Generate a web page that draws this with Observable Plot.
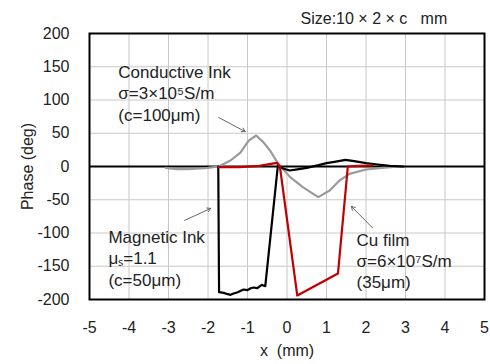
<!DOCTYPE html>
<html>
<head>
<meta charset="utf-8">
<script src="https://cdn.jsdelivr.net/npm/d3@7"></script>
<script src="https://cdn.jsdelivr.net/npm/@observablehq/plot@0.6"></script>
<style>
  body { margin: 0; background: #fff; }
  svg { font-family: "Liberation Sans", Arial, sans-serif; }
</style>
</head>
<body>
<div id="chart"></div>
<script>
// Conductive ink (gray)
const condX = [-3.07, -2.8, -2.5, -2.2, -2.0, -1.73, -1.43, -1.18, -0.97, -0.78, -0.6, -0.43, -0.22, 0.08, 0.4, 0.79, 1.08, 1.33, 1.58, 2.0, 2.4, 2.84];
const condY = [-2, -4, -4, -3, -2, 0, 9, 21, 39, 46.6, 36.6, 24, 4, -16, -31, -46, -36, -21, -11, -4.5, -2, 0];
// Magnetic ink (black)
const magX = [-1.74, -1.72, -1.6, -1.5, -1.43, -1.35, -1.25, -1.1, -1.0, -0.92, -0.85, -0.75, -0.64, -0.6, -0.55, -0.23, -0.1, 0.07, 0.3, 0.5, 0.8, 1.0, 1.2, 1.48, 1.7, 2.0, 2.3, 2.6, 2.95];
const magY = [0, -189, -190, -192, -193, -191, -189, -185, -186, -183, -182, -183, -178, -179, -180, 2, -3, -6, -4, -2, 2, 5, 7, 10, 8, 5, 3, 1, 0];
// Cu film (red)
const cuX = [-1.73, -1.2, -0.7, -0.26, -0.18, 0.26, 1.29, 1.54, 1.8, 2.16];
const cuY = [-1, -1, 1, 5.5, 0, -194, -161, 0, 1, 1.5];

const xTicks = [-5, -4, -3, -2, -1, 0, 1, 2, 3, 4, 5];
const yTicks = [-200, -150, -100, -50, 0, 50, 100, 150, 200];

const seriesNames = ["Conductive Ink", "Magnetic Ink", "Cu film"];
const seriesColors = ["#9a9a9a", "#000000", "#c00000"];

// annotations
const noteText = [
  "Conductive Ink\nσ=3×10⁵S/m\n(c=100μm)",
  "Magnetic Ink\nμₛ=1.1\n(c=50μm)",
  "Cu film\nσ=6×10⁷S/m\n(35μm)"
];
const noteX = [-4.27, -4.52, 1.76];
const noteY = [111, -137, -141];
const arrowX1 = [-1.73, -2.59, 2.16];
const arrowY1 = [73.7, -81, -92];
const arrowX2 = [-1.06, -1.93, 1.63];
const arrowY2 = [52.6, -63, -60];
const sizeNote = "Size:10 × 2 × c   mm";

const rows = [];
[[condX, condY], [magX, magY], [cuX, cuY]].forEach(([xs, ys], k) => {
  xs.forEach((x, i) => rows.push({series: seriesNames[k], x, y: ys[i]}));
});
const notes = noteText.map((t, i) => ({t, x: noteX[i], y: noteY[i]}));
const arrows = arrowX1.map((x, i) => ({x1: x, y1: arrowY1[i], x2: arrowX2[i], y2: arrowY2[i]}));

const chart = Plot.plot({
  width: 490,
  height: 364,
  marginLeft: 89,
  marginRight: 6,
  marginTop: 33,
  marginBottom: 65,
  style: {fontFamily: "'Liberation Sans', Arial, sans-serif", fontSize: "16px", color: "#222"},
  x: {domain: [-5, 5]},
  y: {domain: [-200, 200]},
  color: {domain: seriesNames, range: seriesColors},
  marks: [
    Plot.gridX(xTicks, {stroke: "#c8c8c8", strokeOpacity: 1, strokeWidth: 1}),
    Plot.gridY(yTicks, {stroke: "#c8c8c8", strokeOpacity: 1, strokeWidth: 1}),
    Plot.axisX(xTicks, {tickSize: 0, tickPadding: 22, fontSize: 16, label: "x  (mm)", labelAnchor: "center", labelOffset: 56, labelArrow: "none", tickFormat: d => String(d)}),
    Plot.axisY(yTicks, {tickSize: 0, tickPadding: 20, fontSize: 16, label: "Phase (deg)", labelAnchor: "center", labelOffset: 68, labelArrow: "none", tickFormat: d => String(d)}),
    Plot.ruleY([0], {stroke: "#000", strokeWidth: 2}),
    Plot.line(rows, {x: "x", y: "y", z: "series", stroke: "series", strokeWidth: 2.2, curve: "linear"}),
    Plot.arrow(arrows, {x1: "x1", y1: "y1", x2: "x2", y2: "y2", stroke: "#666", strokeWidth: 1, headLength: 6}),
    Plot.text(notes, {x: "x", y: "y", text: "t", textAnchor: "start", lineAnchor: "middle", lineHeight: 1.25, fontSize: 17, fill: "#222"}),
    Plot.text([sizeNote], {x: 2.2, y: 222, text: d => d, fontSize: 16, fill: "#222"}),
    Plot.frame({stroke: "#000", strokeWidth: 2})
  ]
});
document.getElementById("chart").appendChild(chart);
</script>
</body>
</html>
